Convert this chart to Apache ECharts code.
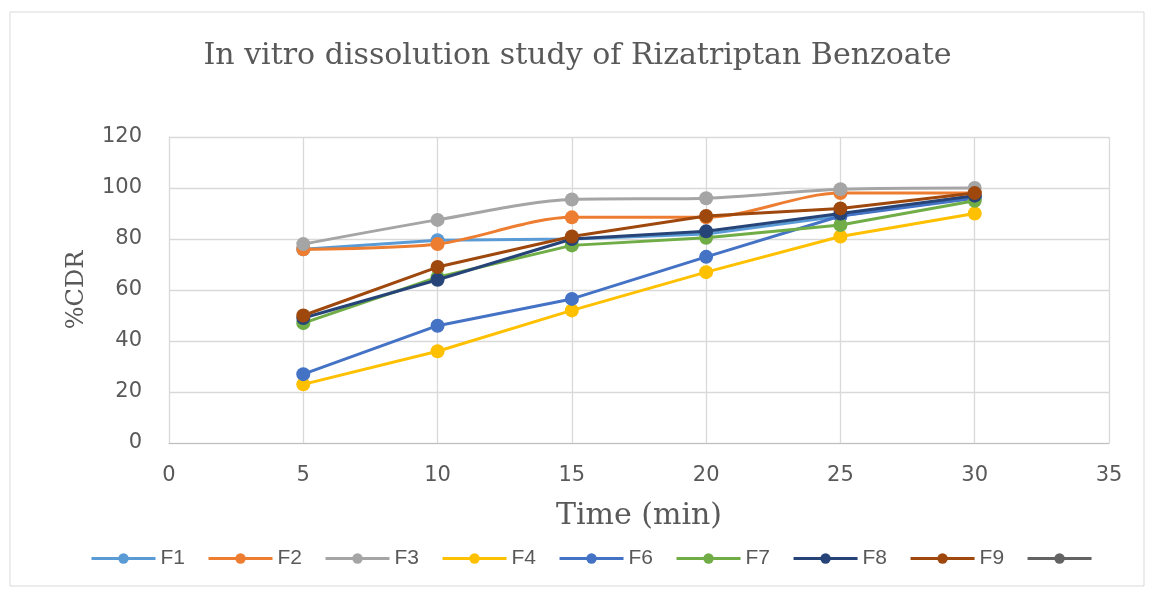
<!DOCTYPE html>
<html><head><meta charset="utf-8">
<script src="https://cdn.jsdelivr.net/npm/echarts@6/dist/echarts.min.js"></script>
<style>html,body{margin:0;padding:0;background:#fff}#c{width:1155px;height:590px}</style>
</head><body><div id="c"></div>
<script>
const times = [5, 10, 15, 20, 25, 30];
const seriesNames = ['F1','F2','F3','F4','F6','F7','F8','F9',' '];
const colors = ['#5B9BD5','#ED7D31','#A5A5A5','#FFC000','#4472C4','#70AD47','#264478','#9E480E','#636363'];
const F1 = [76, 79.5, 80, 82, 89, 97];
const F2 = [76, 78, 88.5, 88.5, 98, 98];
const F3 = [78, 87.5, 95.5, 96, 99.5, 100];
const F4 = [23, 36, 52, 67, 81, 90];
const F6 = [27, 46, 56.5, 73, 89, 96];
const F7 = [47, 65, 77.5, 80.5, 85.5, 95];
const F8 = [49, 64, 80, 83, 90, 97];
const F9 = [50, 69, 81, 89, 92, 98];
const F10 = [];
const allData = [F1,F2,F3,F4,F6,F7,F8,F9,F10];
const smoothFlags = [false,true,true,false,false,false,false,false,false];

const chart = echarts.init(document.getElementById('c'));
chart.setOption({
  animation:false,
  backgroundColor:'#fff',
  graphic:[{type:'rect',shape:{x:10,y:12,width:1134,height:574},style:{fill:'none',stroke:'#d9d9d9',lineWidth:1},silent:true}],
  title:{text:'In vitro dissolution study of Rizatriptan Benzoate',left:'center',top:36,
    textStyle:{fontFamily:'DejaVu Serif',fontSize:30,fontWeight:'normal',color:'#595959'}},
  legend:{top:543,left:85,itemWidth:64,itemHeight:13,itemGap:22,
    data:seriesNames,
    lineStyle:{width:3},
    textStyle:{fontFamily:'Liberation Sans Narrow, Liberation Sans',fontSize:21,color:'#595959'}},
  grid:{left:169,right:46,top:137,bottom:147},
  xAxis:{type:'value',min:0,max:35,interval:5,
    name:'Time (min)',nameLocation:'middle',nameGap:58,
    nameTextStyle:{fontFamily:'DejaVu Serif',fontSize:30,color:'#595959'},
    axisLine:{show:true,lineStyle:{color:'#bfbfbf'}},axisTick:{show:false},
    axisLabel:{fontFamily:'DejaVu Sans',fontSize:21,color:'#595959',margin:22},
    splitLine:{show:true,lineStyle:{color:'#d9d9d9',width:1.3}}},
  yAxis:{type:'value',min:0,max:120,interval:20,
    name:'%CDR',nameLocation:'middle',nameGap:80,
    nameTextStyle:{fontFamily:'DejaVu Serif',fontSize:24,color:'#595959'},
    axisLine:{show:true,lineStyle:{color:'#d9d9d9'}},axisTick:{show:false},
    axisLabel:{fontFamily:'DejaVu Sans',fontSize:21,color:'#595959',margin:27},
    splitLine:{show:true,lineStyle:{color:'#d9d9d9',width:1.3}}},
  series: seriesNames.map((n,i)=>({
    name:n,type:'line',smooth:smoothFlags[i]?0.3:false,
    data: allData[i].map((v,j)=>[times[j],v]),
    symbol:'circle',symbolSize:14,
    lineStyle:{width:3,color:colors[i]},
    itemStyle:{color:colors[i]},
    z:2+i
  }))
});
</script></body></html>
